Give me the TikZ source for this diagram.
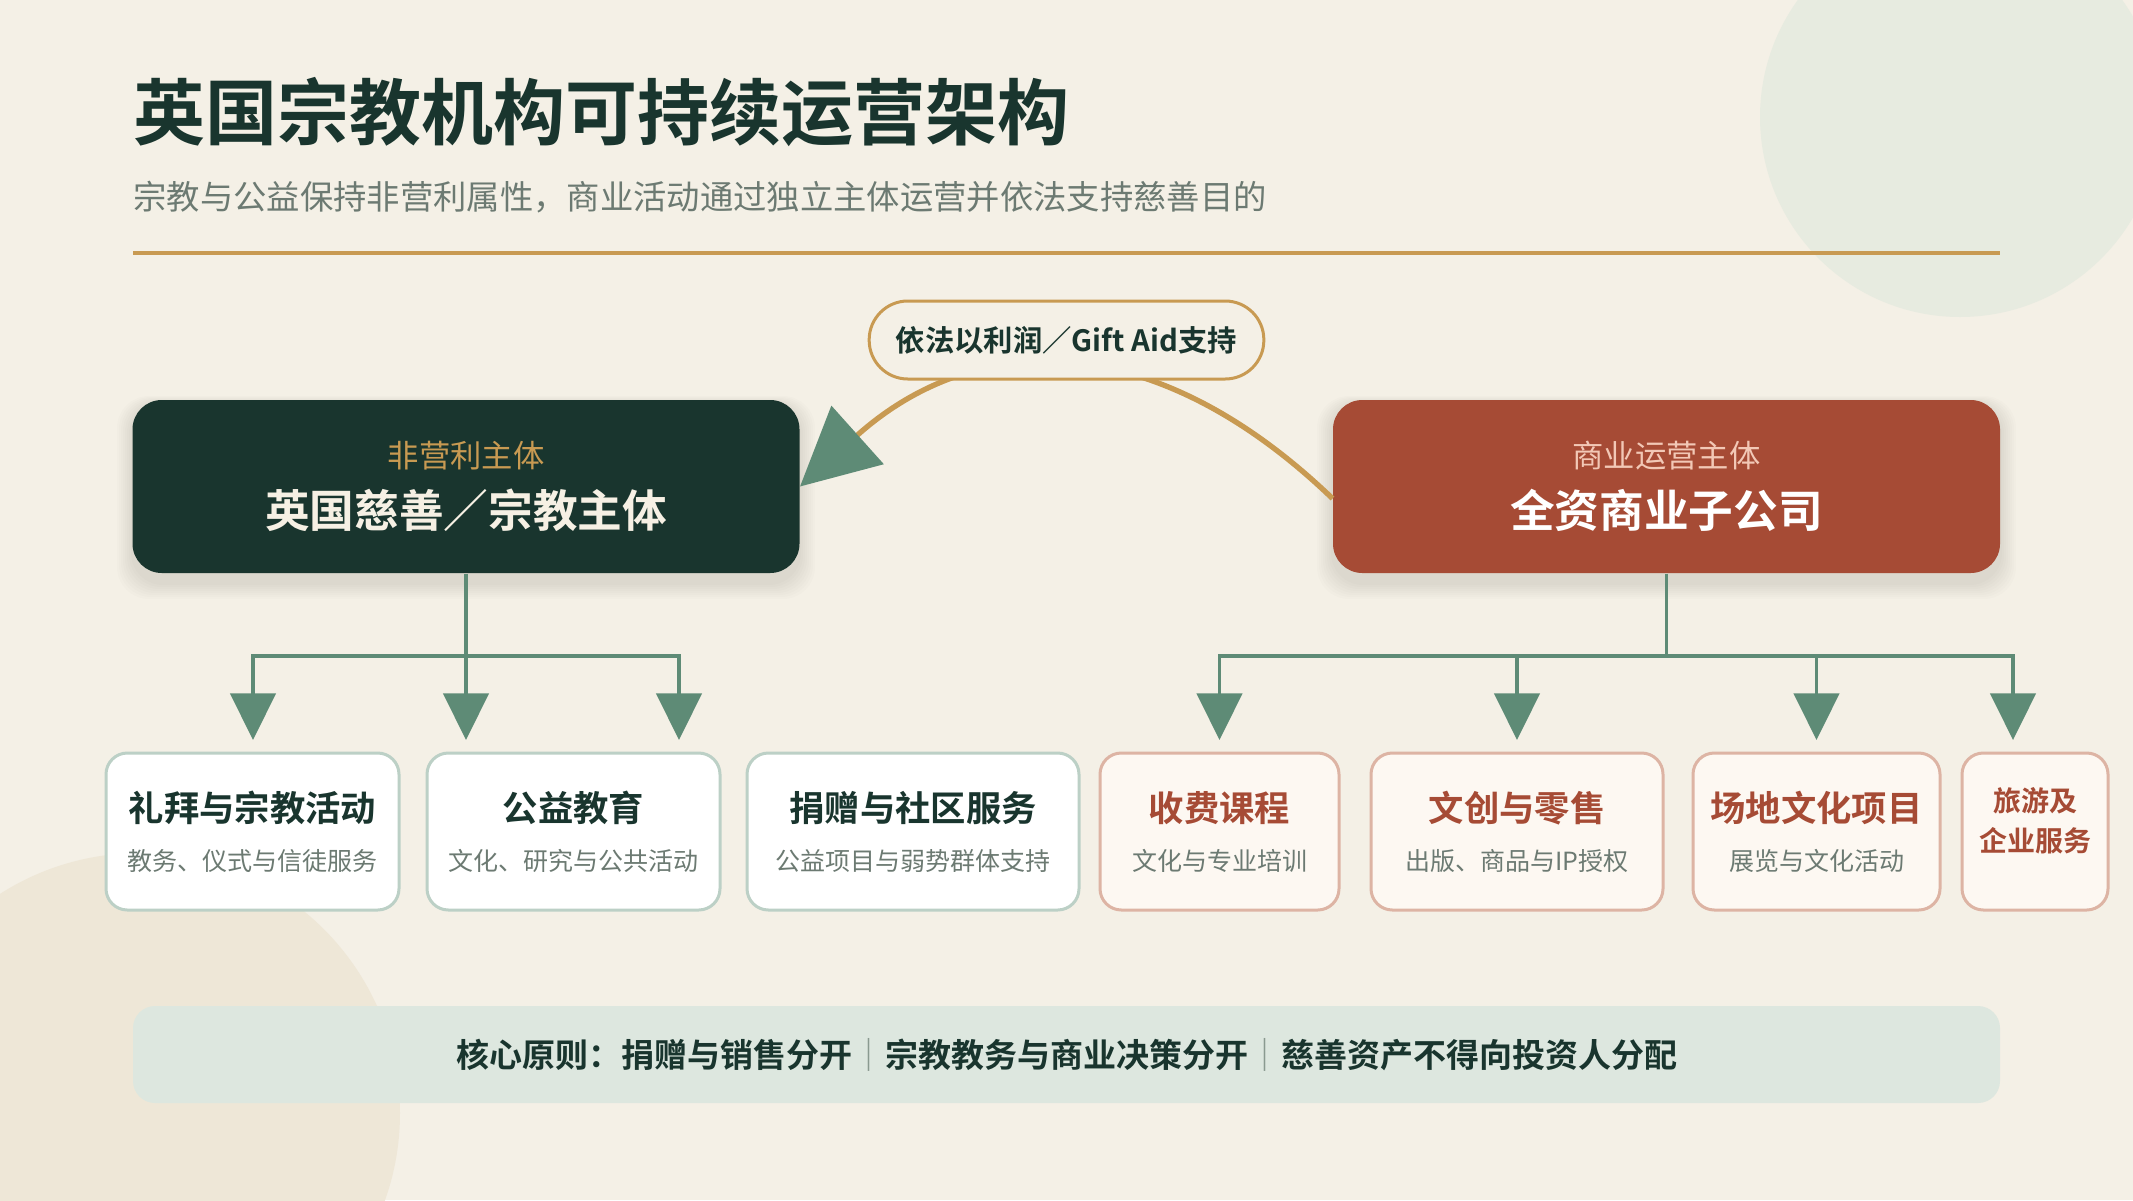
\documentclass[tikz,border=0pt]{standalone}
\usepackage{fontspec}
\setmainfont{Noto Sans CJK SC}[BoldFont={Noto Sans CJK SC Bold}]
\usetikzlibrary{arrows.meta,positioning}

\definecolor{pagebg}{HTML}{F4F0E6}
\definecolor{blobgreen}{HTML}{E7EBE0}
\definecolor{blobsand}{HTML}{EEE7D7}
\definecolor{deepgreen}{HTML}{19352E}
\definecolor{rust}{HTML}{A64B35}
\definecolor{gold}{HTML}{C89A52}
\definecolor{treegreen}{HTML}{5E8B76}
\definecolor{subgray}{HTML}{6C7A72}
\definecolor{cream}{HTML}{F6F0E4}
\definecolor{blush}{HTML}{F2C8B6}
\definecolor{cardline}{HTML}{BCD0C6}
\definecolor{cardlineR}{HTML}{DDB4A4}
\definecolor{cardfillR}{HTML}{FDF8F2}
\definecolor{bannerfill}{HTML}{DDE7DF}
\definecolor{sepline}{HTML}{8A9A90}

\tikzset{every picture/.style={line width=0.75pt}}
\tikzset{
  mainbox/.style={rounded corners=22pt, minimum width=500.25pt, minimum height=129.75pt, inner sep=0pt},
  tagtext/.style={inner sep=0pt, font=\fontsize{23.5}{28}\selectfont},
  nametext/.style={inner sep=0pt, font=\fontsize{33.5}{40}\selectfont\bfseries},
  pill/.style={draw=gold, line width=2.25pt, fill=pagebg, rounded corners=29pt, minimum width=296pt, minimum height=58.5pt, inner sep=0pt, text=deepgreen, font=\fontsize{22}{26}\selectfont\bfseries},
  flowline/.style={draw=gold, line width=4pt, -{Triangle[length=58pt,width=58pt,color=treegreen]}},
  branch/.style={draw=treegreen, line width=2.6pt},
  branchtip/.style={branch, -{Triangle[length=35pt,width=34pt]}},
  cardL/.style={draw=cardline, line width=2.25pt, fill=white, rounded corners=16pt, minimum height=117.75pt, inner sep=0pt},
  cardR/.style={draw=cardlineR, line width=2.25pt, fill=cardfillR, rounded corners=16pt, minimum height=117.75pt, inner sep=0pt},
  cardtitle/.style={inner sep=0pt, font=\fontsize{26.5}{32}\selectfont\bfseries},
  cardsub/.style={inner sep=0pt, text=subgray, font=\fontsize{18.75}{22}\selectfont},
  banner/.style={fill=bannerfill, rounded corners=16.5pt, minimum width=1400.25pt, minimum height=72.75pt, inner sep=0pt, text=deepgreen, font=\fontsize{24.75}{30}\selectfont\bfseries}
}

\begin{document}
\begin{tikzpicture}[x=0.75pt,y=0.75pt,yscale=-1,xscale=1]
\useasboundingbox (0,0) rectangle (2133,1200);

%Background
\fill[pagebg] (0,0) rectangle (2133,1200);
\begin{scope}
\clip (0,0) rectangle (2133,1200);
\fill[blobgreen] (1960,117) circle (200);
\fill[blobsand] (140,1113) circle (260);
\end{scope}

% Text Node
\node[anchor=west, inner sep=0pt, text=deepgreen, font=\fontsize{54}{64}\selectfont\bfseries] (title) at (133,112) {英国宗教机构可持续运营架构};
% Text Node
\node[anchor=west, inner sep=0pt, text=subgray, font=\fontsize{25}{30}\selectfont] (subtitle) at (133,197) {宗教与公益保持非营利属性，商业活动通过独立主体运营并依法支持慈善目的};
%Straight Lines
\draw[gold, line width=3pt] (133,253) -- (2000,253);

%Shadows
\foreach \k in {1,...,8} {
  \fill[black, opacity=0.012, rounded corners=24pt] (133-2*\k,404-\k) rectangle (799+2*\k,583+2*\k);
  \fill[black, opacity=0.012, rounded corners=24pt] (1333-2*\k,404-\k) rectangle (2000+2*\k,583+2*\k);
}

%Shape: main boxes
\node[mainbox, fill=deepgreen] (charity) at (466,486.5) {};
\node[mainbox, fill=rust] (trading) at (1666.5,486.5) {};
% Text Node
\node[tagtext, text=gold] (charityTag) at (466,456) {非营利主体};
\node[nametext, text=cream] (charityName) at (466,510) {英国慈善／宗教主体};
% Text Node
\node[tagtext, text=blush] (tradingTag) at (1666.5,456) {商业运营主体};
\node[nametext, text=white] (tradingName) at (1666.5,510) {全资商业子公司};

%Curve
\draw[flowline] ([yshift=9pt]trading.west) .. controls (1155,328) and (977,328) .. (charity.east);
\node[pill] (giftaid) at (1066.5,340) {依法以利润／Gift Aid支持};

%Tree
\coordinate (lhub) at (466,656);
\coordinate (rhub) at (1666.5,656);
\coordinate (la) at (253,740);
\coordinate (lb) at (466,740);
\coordinate (lc) at (679,740);
\coordinate (ra) at (1219.5,740);
\coordinate (rb) at (1517,740);
\coordinate (rc) at (1816.5,740);
\coordinate (rd) at (2013,740);
\draw[branch] (charity.south) -- (lhub);
\draw[branch] (trading.south) -- (rhub);
\foreach \t in {la,lb,lc} \draw[branchtip] (lhub) -| (\t);
\foreach \t in {ra,rb,rc,rd} \draw[branchtip] (rhub) -| (\t);

%Cards
\node[cardL, minimum width=219.75pt] (worship) at (252.5,831.5) {};
\node[cardL, minimum width=219.75pt] (education) at (573.5,831.5) {};
\node[cardL, minimum width=249pt] (donation) at (913,831.5) {};
\node[cardR, minimum width=179.25pt] (courses) at (1219.5,831.5) {};
\node[cardR, minimum width=219pt] (retail) at (1517,831.5) {};
\node[cardR, minimum width=185.25pt] (venue) at (1816.5,831.5) {};
\node[cardR, minimum width=109.5pt] (tourism) at (2035,831.5) {};

% Text Node
\node[cardtitle, text=deepgreen] (worshipT) at (252.5,808) {礼拜与宗教活动};
\node[cardsub] (worshipS) at (252.5,861) {教务、仪式与信徒服务};
\node[cardtitle, text=deepgreen] (educationT) at (573.5,808) {公益教育};
\node[cardsub] (educationS) at (573.5,861) {文化、研究与公共活动};
\node[cardtitle, text=deepgreen] (donationT) at (913,808) {捐赠与社区服务};
\node[cardsub] (donationS) at (913,861) {公益项目与弱势群体支持};
\node[cardtitle, text=rust] (coursesT) at (1219.5,808) {收费课程};
\node[cardsub] (coursesS) at (1219.5,861) {文化与专业培训};
\node[cardtitle, text=rust] (retailT) at (1517,808) {文创与零售};
\node[cardsub] (retailS) at (1517,861) {出版、商品与IP授权};
\node[cardtitle, text=rust] (venueT) at (1816.5,808) {场地文化项目};
\node[cardsub] (venueS) at (1816.5,861) {展览与文化活动};
\node[cardtitle, text=rust, align=center, font=\fontsize{21}{30}\selectfont\bfseries] (tourismT) at (2035,821) {旅游及\\企业服务};

%Banner
\node[banner] (principle) at (1066.5,1054.5) {核心原则：捐赠与销售分开{\color{sepline}｜}宗教教务与商业决策分开{\color{sepline}｜}慈善资产不得向投资人分配};

\end{tikzpicture}
\end{document}
